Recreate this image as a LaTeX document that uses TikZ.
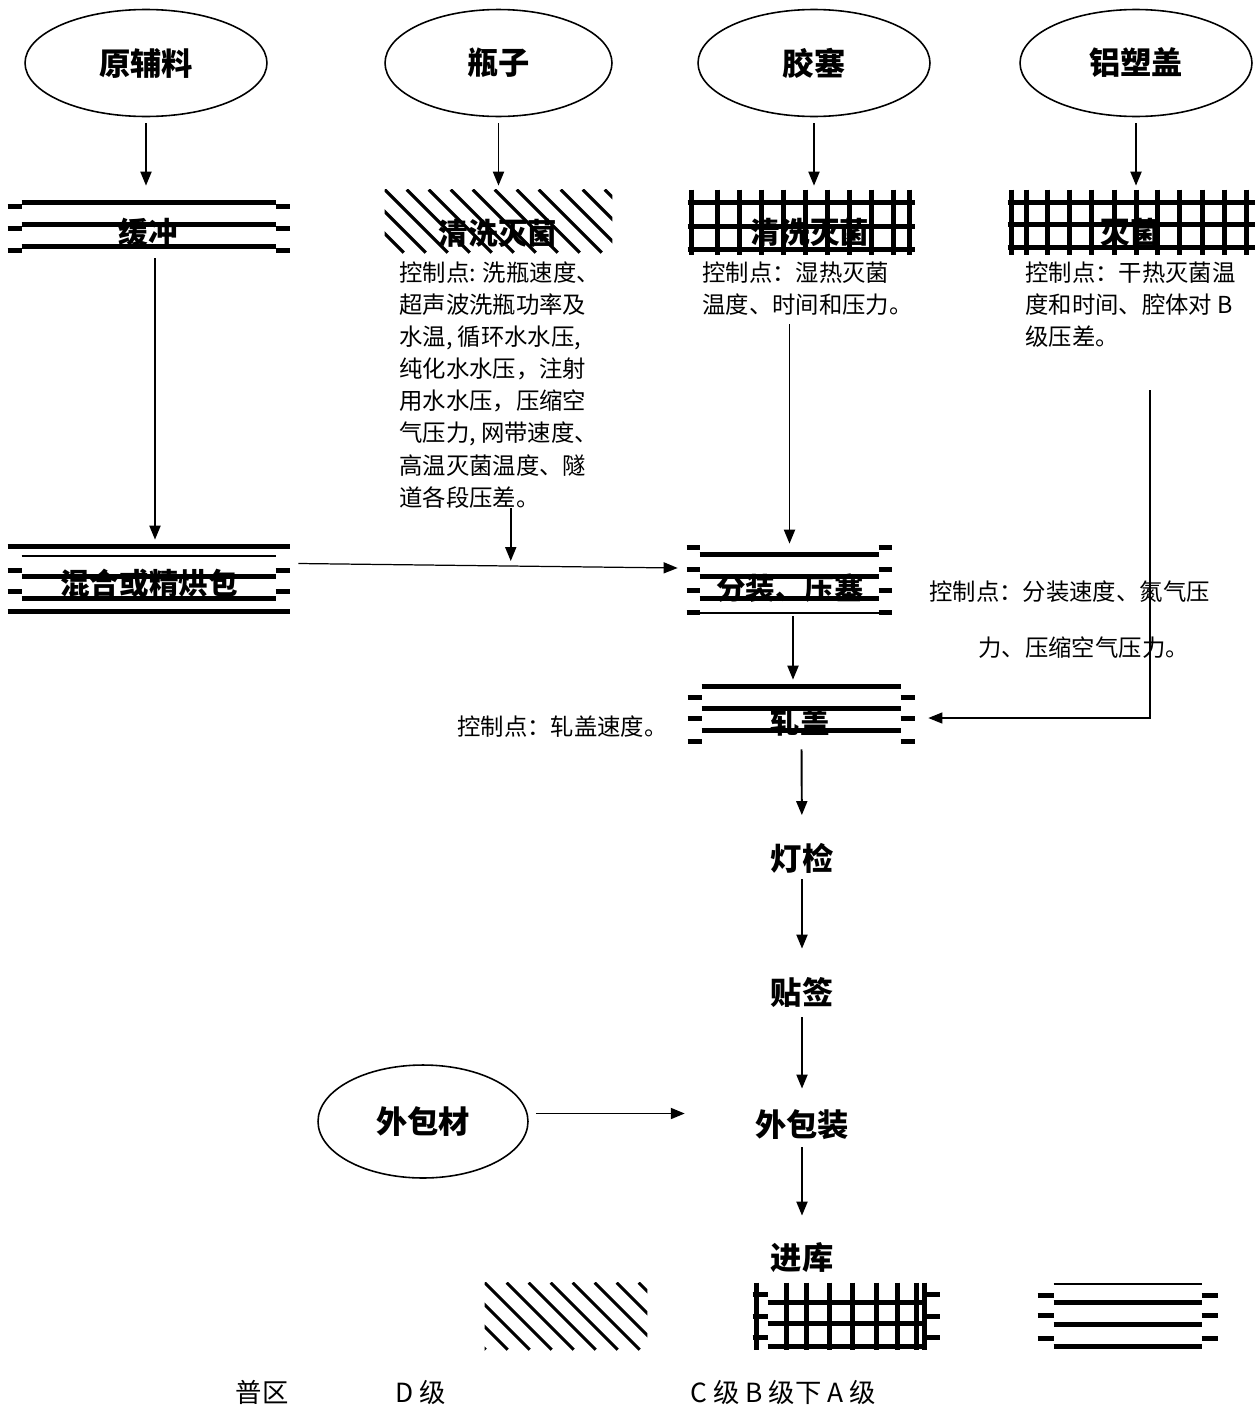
\documentclass[tikz,border=0pt]{standalone}
\usepackage{fontspec}
\setmainfont{Noto Sans CJK SC}
\usetikzlibrary{arrows.meta,calc,shapes.geometric}

\newcommand{\stagefont}{\bfseries\fontsize{17.8pt}{20pt}\selectfont}
\newcommand{\zonefont}{\bfseries\fontsize{16.8pt}{19pt}\selectfont}
\newcommand{\ctrlfont}{\fontsize{13.3pt}{18.3pt}\selectfont}
\newcommand{\legendfont}{\fontsize{15pt}{18pt}\selectfont}

% horizontal bars (B/A grade): node, width, inset, thick rows, tick rows
\newcommand{\hbars}[5]{%
  \begin{scope}[shift={(#1.north west)}]
    \foreach \r in {#4} \draw[bar] (#3,\r) -- (#2-#3,\r);
    \foreach \r in {#5} {
      \draw[bar] (0,\r) -- (#3,\r);
      \draw[bar] (#2-#3,\r) -- (#2,\r);
    }
  \end{scope}}

% diagonal hatch (D grade): node, width, height
\newcommand{\dhatch}[3]{%
  \begin{scope}
    \clip (#1.north west) rectangle (#1.south east);
    \begin{scope}[shift={(#1.north west)}]
      \foreach \s in {-88,-66,...,#2}
        \draw[hatchline] (\s,0) -- +(#3,#3);
    \end{scope}
  \end{scope}}

% grid (C grade): node, width, height, columns, rows
\newcommand{\cgrid}[5]{%
  \begin{scope}[shift={(#1.north west)}]
    \foreach \c in {#4} \draw[bar] (\c,0) -- (\c,#3);
    \foreach \r in {#5} \draw[bar] (0,\r) -- (#2,\r);
  \end{scope}}

\begin{document}
\begin{tikzpicture}[
  x=0.02cm, y=-0.02cm,
  source/.style={
    ellipse,
    draw,
    line width=0.9pt,
    font=\stagefont,
    inner sep=0pt
  },
  zone/.style={
    rectangle,
    inner sep=0pt
  },
  zonetext/.style={
    font=\zonefont,
    inner sep=0pt
  },
  stepnode/.style={
    font=\stagefont,
    inner sep=0pt
  },
  ctrl/.style={
    font=\ctrlfont,
    align=left,
    inner sep=0pt,
    anchor=north west
  },
  flow/.style={
    -{Triangle[length=0.28cm,width=0.22cm]},
    line width=1.1pt
  },
  thinflow/.style={
    -{Triangle[length=0.28cm,width=0.22cm]},
    line width=0.7pt
  },
  bar/.style={line width=3pt},
  thinbar/.style={line width=1.2pt},
  hatchline/.style={line width=1.8pt}
  ]

  \useasboundingbox (0,0) rectangle (1258,1410);

  % Incoming materials
  \node[source, minimum width=4.84cm, minimum height=2.14cm] (yuanfuliao) at (146,63) {原辅料};
  \node[source, minimum width=4.54cm, minimum height=2.14cm] (pingzi) at (498.5,63) {瓶子};
  \node[source, minimum width=4.64cm, minimum height=2.14cm] (jiaosai) at (814,63) {胶塞};
  \node[source, minimum width=4.64cm, minimum height=2.14cm] (lvsugai) at (1136,63) {铝塑盖};

  % First treatment row
  \node[zone, minimum width=5.64cm, minimum height=1.3cm] (huanchong) at (149,222.5) {};
  \hbars{huanchong}{282}{14}{13,35,57}{17,39,61}
  \node[zonetext] (huanchongLbl) at (148,232) {缓冲};

  \node[zone, minimum width=4.54cm, minimum height=1.26cm] (qxmjPing) at (498.5,221.5) {};
  \dhatch{qxmjPing}{227}{63}
  \node[zonetext] (qxmjPingLbl) at (498,233) {清洗灭菌};

  \node[zone, minimum width=4.54cm, minimum height=1.3cm] (qxmjJiao) at (801.5,222.5) {};
  \cgrid{qxmjJiao}{227}{65}{4,30,52,74,96,118,140,162,184,206,222}{13,37,60}
  \node[zonetext] (qxmjJiaoLbl) at (810,232) {清洗灭菌};

  \node[zone, minimum width=4.94cm, minimum height=1.3cm] (miejun) at (1131.5,222.5) {};
  \cgrid{miejun}{247}{65}{4,19,40,62,84,107,129,150,172,195,217,239}{13,35,58}
  \node[zonetext] (miejunLbl) at (1130,232) {灭菌};

  % Control points
  \node[ctrl] (ctrlPing) at (399,261)
    {控制点: 洗瓶速度、\\超声波洗瓶功率及\\水温, 循环水水压,\\纯化水水压，注射\\用水水压，压缩空\\气压力, 网带速度、\\高温灭菌温度、隧\\道各段压差。};
  \node[ctrl] (ctrlJiao) at (702,261) {控制点：湿热灭菌\\温度、时间和压力。};
  \node[ctrl] (ctrlLv) at (1025,261) {控制点：干热灭菌温\\度和时间、腔体对 B\\级压差。};

  % Mixing, filling, capping
  \node[zone, minimum width=5.64cm, minimum height=1.42cm] (hunhe) at (149,579.5) {};
  \hbars{hunhe}{282}{14}{33,55}{27,48}
  \begin{scope}[shift={(hunhe.north west)}]
    \draw[bar] (0,3) -- (282,3) (0,68) -- (282,68);
    \draw[thinbar] (14,12) -- (268,12);
  \end{scope}
  \node[zonetext] (hunheLbl) at (149,583) {混合或精烘包};

  \node[zone, minimum width=4.1cm, minimum height=1.44cm] (fenzhuang) at (789.5,580) {};
  \hbars{fenzhuang}{205}{13}{11,33,55}{4,26,47,69}
  \begin{scope}[shift={(fenzhuang.north west)}]
    \draw[thinbar] (13,69) -- (192,69);
  \end{scope}
  \node[zonetext] (fenzhuangLbl) at (790,588) {分装、压塞};
  \node[ctrl] (ctrlFen) at (929,580)
    {控制点：分装速度、氮气压\\[13.7pt]\hspace*{2.1em}力、压缩空气压力。};

  \node[zone, minimum width=4.54cm, minimum height=1.28cm] (zhagai) at (801.5,714) {};
  \hbars{zhagai}{227}{14}{5,27,49}{16,37,60}
  \node[zonetext] (zhagaiLbl) at (800,722) {轧盖};
  \node[ctrl] (ctrlZha) at (457,715) {控制点：轧盖速度。};

  % Final steps
  \node[stepnode] (dengjian) at (802,858) {灯检};
  \node[stepnode] (tieqian) at (802,992) {贴签};
  \node[stepnode] (waibaozhuang) at (802,1125) {外包装};
  \node[stepnode] (jinku) at (802,1258) {进库};
  \node[source, minimum width=4.2cm, minimum height=2.26cm] (waibaocai) at (423,1121.5) {外包材};

  % Flow arrows
  \draw[flow, shorten <=0.12cm, shorten >=0.08cm] (yuanfuliao.south) -- (yuanfuliao.south |- huanchong.north);
  \draw[flow, shorten <=0.12cm, shorten >=0.08cm] (pingzi.south) -- (pingzi.south |- qxmjPing.north);
  \draw[flow, shorten <=0.12cm, shorten >=0.08cm] (jiaosai.south) -- (jiaosai.south |- qxmjJiao.north);
  \draw[flow, shorten <=0.12cm, shorten >=0.08cm] (lvsugai.south) -- (lvsugai.south |- miejun.north);

  \draw[flow, shorten <=0.06cm, shorten >=0.08cm] ($(huanchong.south)+(6,0)$) -- ($(hunhe.north)+(6,0)$);
  \draw[thinflow] ($(hunhe.east)+(8,-16)$) -- coordinate[pos=0.56] (merge) ($(fenzhuang.west)+(-9,-12)$);
  \draw[flow, shorten >=0.1cm] (merge |- ctrlPing.south) -- (merge);
  \draw[flow, shorten <=0.18cm] (fenzhuang.north |- ctrlJiao.south) -- (fenzhuang.north);

  \coordinate (fzOut) at ($(fenzhuang.south)+(3.5,0)$);
  \draw[flow, shorten >=0.04cm] (fzOut) -- (fzOut |- zhagai.north);

  \coordinate (capDrop) at (1150,390);
  \draw[thinflow] (capDrop) |- ($(zhagai.east)+(13,4)$);

  \draw[flow, shorten <=0.06cm, shorten >=0.55cm] (zhagai.south) -- (dengjian.north);
  \draw[flow, shorten <=0.12cm, shorten >=0.56cm] (dengjian.south) -- (tieqian.north);
  \draw[flow, shorten <=0.2cm, shorten >=0.42cm] (tieqian.south) -- (waibaozhuang.north);
  \draw[flow, shorten <=0.14cm, shorten >=0.54cm] (waibaozhuang.south) -- (jinku.north);

  \coordinate (wbcOut) at ($(waibaocai.east)+(0,-8)$);
  \draw[flow, shorten <=0.14cm, shorten >=1.4cm] (wbcOut) -- (wbcOut -| waibaozhuang.west);

  % Legend
  \node[zone, minimum width=3.24cm, minimum height=1.34cm] (legD) at (566,1316.5) {};
  \dhatch{legD}{162}{67}

  \node[zone, minimum width=3.74cm, minimum height=1.34cm] (legC) at (846.5,1316.5) {};
  \hbars{legC}{187}{15}{20,41,64}{12,34,55}
  \begin{scope}[shift={(legC.north west)}]
    \foreach \c in {4,34,54,77,100,124,145,164,172} \draw[bar] (\c,0) -- (\c,67);
  \end{scope}

  \node[zone, minimum width=3.6cm, minimum height=1.34cm] (legA) at (1128,1316.5) {};
  \hbars{legA}{180}{16}{20,42,64}{13,33,56}
  \begin{scope}[shift={(legA.north west)}]
    \draw[thinbar] (16,1) -- (164,1);
  \end{scope}

  \node[font=\legendfont, inner sep=0pt] (legPu) at (262,1392) {普区};
  \node[font=\legendfont, inner sep=0pt] (legDLbl) at (421,1392) {D 级};
  \node[font=\legendfont, inner sep=0pt] (legCBA) at (783,1392) {C 级 B 级下 A 级};

\end{tikzpicture}
\end{document}
